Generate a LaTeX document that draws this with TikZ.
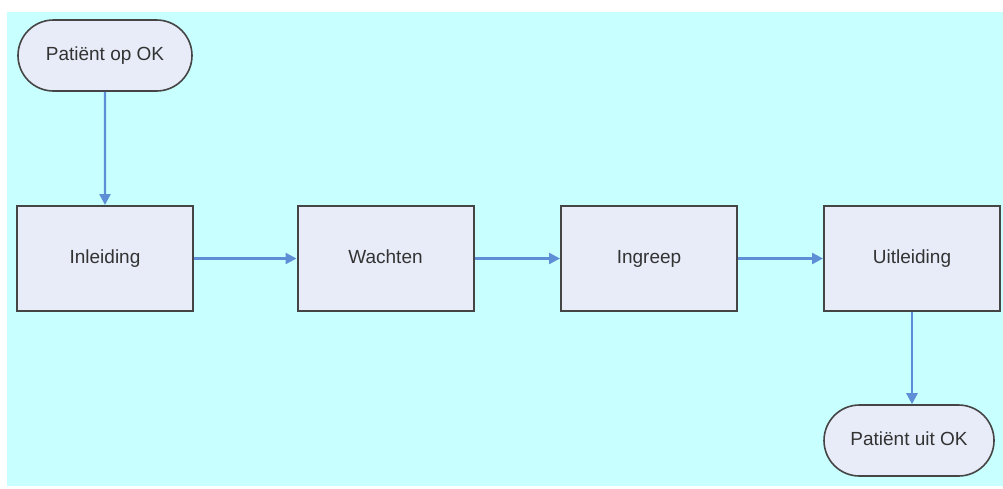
\documentclass[tikz,border=0pt]{standalone}
\usepackage{fontspec}
\setmainfont{Liberation Sans}
\usetikzlibrary{arrows.meta,shapes.misc}
\definecolor{bgcyan}{HTML}{C8FFFF}
\definecolor{boxfill}{HTML}{E7ECF8}
\definecolor{boxline}{HTML}{454545}
\definecolor{arrowblue}{HTML}{5E8ED6}
\tikzset{
  txt/.style={font=\fontsize{19}{21}\selectfont, text=black!80, text height=13.5pt, text depth=4pt, align=center},
  stepbox/.style={txt, draw=boxline, fill=boxfill, line width=2pt, minimum width=176pt, minimum height=105pt, inner sep=0pt},
  termbox/.style={txt, draw=boxline, fill=boxfill, line width=1.6pt, rounded rectangle, rounded rectangle arc length=180, minimum width=174pt, minimum height=71pt, inner sep=0pt},
  flow/.style={draw=arrowblue, line width=2.4pt, -{Triangle[length=11pt,width=11pt]}}
}
\begin{document}
\begin{tikzpicture}[x=1pt,y=-1pt]
\useasboundingbox (0,0) rectangle (1003,488);
\fill[bgcyan] (7,12) rectangle (1003,486);
\node[termbox] (start) at (105,55.5) {Patiënt op OK};
\node[stepbox] (inl) at (105,258.5) {Inleiding};
\node[stepbox] (wacht) at (385.5,258.5) {Wachten};
\node[stepbox] (ingr) at (649,258.5) {Ingreep};
\node[stepbox] (uitl) at (912,258.5) {Uitleiding};
\node[termbox, minimum width=170pt] (end) at (909,440.5) {Patiënt uit OK};
\draw[flow] (start) -- (inl);
\draw[flow] (inl) -- (wacht);
\draw[flow] (wacht) -- (ingr);
\draw[flow] (ingr) -- (uitl);
\draw[flow] (uitl.south) -- (uitl.south |- end.north);
\end{tikzpicture}
\end{document}
